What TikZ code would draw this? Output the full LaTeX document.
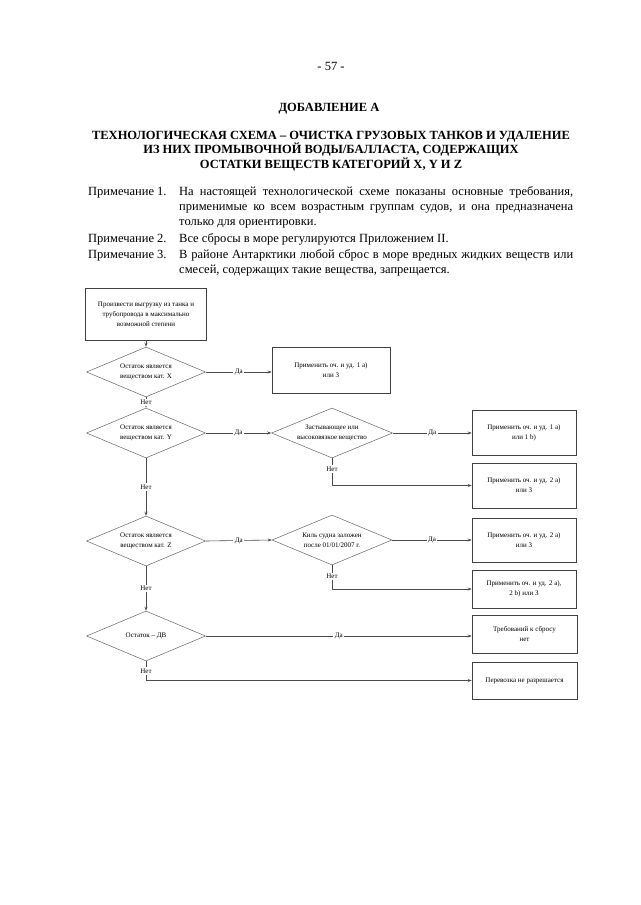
\documentclass[tikz,border=0pt]{standalone}
\usepackage{fontspec}
\setmainfont{Liberation Serif}
\usetikzlibrary{shapes.geometric,arrows.meta}
\begin{document}
\begin{tikzpicture}[x=1pt,y=-1pt,
  big/.style={font=\fontsize{12.5}{14.5}\selectfont, inner sep=0pt},
  note/.style={font=\fontsize{12.5}{14.5}\selectfont, inner sep=0pt, anchor=base west},
  box/.style={draw=black!75, line width=0.6pt, inner sep=0pt},
  dia/.style={diamond, draw=black!60, line width=0.5pt, inner sep=0pt},
  txt/.style={font=\fontsize{7}{10}\selectfont, align=center, inner sep=0pt},
  conn/.style={draw=black!70, line width=0.6pt, -{Stealth[length=4pt,width=3pt]}},
  lbl/.style={font=\fontsize{7}{8}\selectfont, fill=white, inner sep=1.5pt}]
\fill[white] (0,0) rectangle (640,905);
\useasboundingbox (0,0) rectangle (640,905);

% header
\node[big] (pg) at (331,66) {- 57 -};
\node[big, font=\fontsize{12.5}{14.5}\selectfont\bfseries] (app) at (329,109) {ДОБАВЛЕНИЕ А};
\node[big, font=\fontsize{12.5}{14.5}\selectfont\bfseries, align=center] (title) at (331,151)
  {ТЕХНОЛОГИЧЕСКАЯ СХЕМА – ОЧИСТКА ГРУЗОВЫХ ТАНКОВ И УДАЛЕНИЕ\\
   ИЗ НИХ ПРОМЫВОЧНОЙ ВОДЫ/БАЛЛАСТА, СОДЕРЖАЩИХ\\
   ОСТАТКИ ВЕЩЕСТВ КАТЕГОРИЙ X, Y И Z};

% notes
\node[note] (n1) at (88,195) {Примечание 1.};
\node[note] (n1a) at (179,195) {\makebox[394pt][s]{На настоящей технологической схеме показаны основные требования,}};
\node[note] (n1b) at (179,210) {\makebox[394pt][s]{применимые ко всем возрастным группам судов, и она предназначена}};
\node[note] (n1c) at (179,225) {только для ориентировки.};
\node[note] (n2) at (88,242) {Примечание 2.};
\node[note] (n2a) at (179,242) {Все сбросы в море регулируются Приложением II.};
\node[note] (n3) at (88,258) {Примечание 3.};
\node[note] (n3a) at (179,258) {\makebox[394pt][s]{В районе Антарктики любой сброс в море вредных жидких веществ или}};
\node[note] (n3b) at (179,273) {смесей, содержащих такие вещества, запрещается.};

% flowchart shapes
\node[box, minimum width=121, minimum height=52] (top) at (146,314) {};
\node[txt] at (top) {Произвести выгрузку из танка и\\трубопровода в максимально\\возможной степени};

\node[dia, minimum width=119, minimum height=50] (dX) at (146,372) {};
\node[txt] at (dX) {Остаток является\\веществом кат. X};
\node[box, minimum width=118, minimum height=46] (b1) at (331,370) {};
\node[txt] at (b1) {Применить оч. и уд. 1 a)\\или 3};

\node[dia, minimum width=119, minimum height=50] (dY) at (146,433) {};
\node[txt] at (dY) {Остаток является\\веществом кат. Y};
\node[dia, minimum width=121, minimum height=50] (d2) at (332,433) {};
\node[txt] at (d2) {Застывающее или\\высоковязкое вещество};
\node[box, minimum width=104, minimum height=45] (b2) at (524,432.5) {};
\node[txt] at (b2) {Применить оч. и уд. 1 a)\\или 1 b)};
\node[box, minimum width=104, minimum height=45] (b3) at (524,485.5) {};
\node[txt] at (b3) {Применить оч. и уд. 2 a)\\или 3};

\node[dia, minimum width=119, minimum height=50] (dZ) at (146,541) {};
\node[txt] at (dZ) {Остаток является\\веществом кат. Z};
\node[dia, minimum width=120, minimum height=50] (d3) at (332,540) {};
\node[txt] at (d3) {Киль судна заложен\\после 01/01/2007 г.};
\node[box, minimum width=104, minimum height=44] (b4) at (524,540) {};
\node[txt] at (b4) {Применить оч. и уд. 2 a)\\или 3};
\node[box, minimum width=104, minimum height=38] (b5) at (524,589) {};
\node[txt] at (b5) {Применить оч. и уд. 2 a),\\2 b) или 3};

\node[dia, minimum width=119, minimum height=50] (dDV) at (146,636) {};
\node[txt] at (dDV) {Остаток – ДВ};
\node[box, minimum width=105, minimum height=38] (b6) at (524.5,634) {};
\node[txt] at (b6) {Требований к сбросу\\нет};
\node[box, minimum width=105, minimum height=37] (b7) at (524.5,680.5) {};
\node[txt] at (b7) {Перевозка не разрешается};

% connectors
\draw[conn] (top) -- (dX);
\draw[conn] (dX.east) -- (dX.east -| b1.west) node[lbl, midway] {Да};
\draw[conn] (dX) -- node[lbl] {Нет} (dY);
\draw[conn] (dY.east) -- (d2.west) node[lbl, midway] {Да};
\draw[conn] (d2.east) -- (d2.east -| b2.west) node[lbl, midway] {Да};
\draw[conn] (d2.south) |- node[lbl, pos=0.2] {Нет} (b3.west);
\draw[conn] (dY) -- node[lbl] {Нет} (dZ);
\draw[conn] (dZ.east) -- (d3.west) node[lbl, midway] {Да};
\draw[conn] (d3.east) -- (d3.east -| b4.west) node[lbl, midway] {Да};
\draw[conn] (d3.south) |- node[lbl, pos=0.24] {Нет} (b5.west);
\draw[conn] (dZ) -- node[lbl] {Нет} (dDV);
\draw[conn] (dDV.east) -- (dDV.east -| b6.west) node[lbl, midway] {Да};
\draw[conn] (dDV.south) |- node[lbl, pos=0.25] {Нет} (b7.west);
\end{tikzpicture}
\end{document}
